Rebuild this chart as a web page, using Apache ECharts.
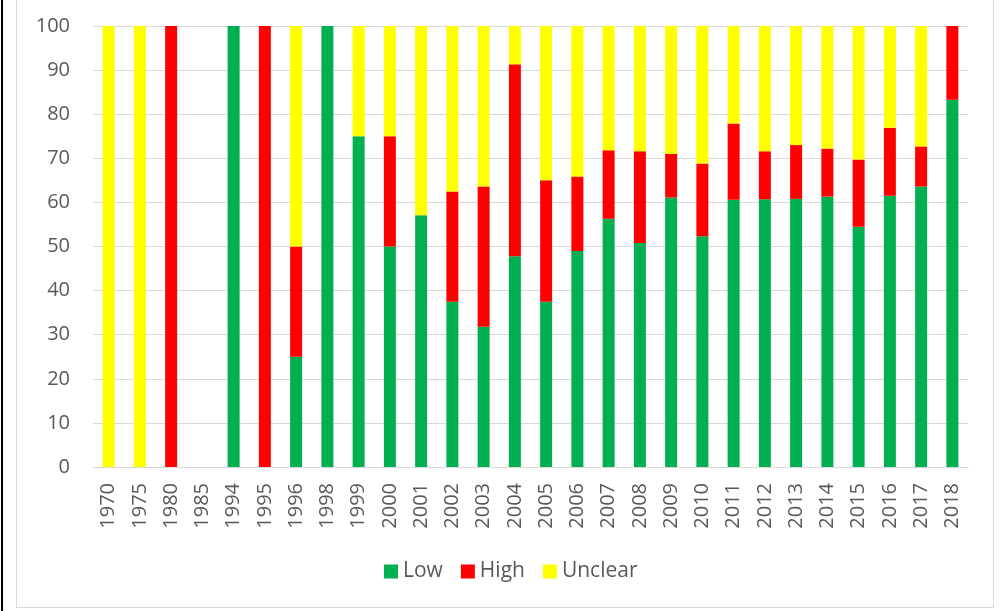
<!DOCTYPE html>
<html>
<head>
<meta charset="utf-8">
<script src="https://cdn.jsdelivr.net/npm/echarts@6/dist/echarts.min.js"></script>
<style>
  html, body { margin: 0; padding: 0; background: #fff; }
  #wrap { position: relative; width: 1003px; height: 611px; overflow: hidden; }
  #leftline { position: absolute; left: 1px; top: 0; width: 2px; height: 611px; background: #000; }
  #frame { position: absolute; left: 16px; top: -5px; width: 978px; height: 613px; border: 1px solid #d9d9d9; box-sizing: border-box; }
  #chart { position: absolute; left: 0; top: 0; width: 1003px; height: 611px; }
</style>
</head>
<body>
<div id="wrap">
  <div id="leftline"></div>
  <div id="frame"></div>
  <div id="chart"></div>
</div>
<script>
const categories = ['1970','1975','1980','1985','1994','1995','1996','1998','1999','2000','2001','2002','2003','2004','2005','2006','2007','2008','2009','2010','2011','2012','2013','2014','2015','2016','2017','2018'];
const lowValues = [null, null, null, null, 100, null, 25, 100, 75, 50, 57.1, 37.5, 31.8, 47.8, 37.5, 49.0, 56.3, 50.8, 61.1, 52.3, 60.6, 60.7, 60.8, 61.3, 54.5, 61.5, 63.6, 83.3];
const highValues = [null, null, 100, null, null, 100, 25, null, null, 25, null, 25, 31.8, 43.5, 27.5, 16.9, 15.5, 20.8, 9.9, 16.5, 17.3, 10.9, 12.2, 10.9, 15.2, 15.4, 9.1, 16.7];
const unclearValues = [100, 100, null, null, null, null, 50, null, 25, 25, 42.9, 37.5, 36.4, 8.7, 35, 34.1, 28.2, 28.4, 29.0, 31.2, 22.1, 28.4, 27.0, 27.8, 30.3, 23.1, 27.3, null];
const yTicks = [0, 10, 20, 30, 40, 50, 60, 70, 80, 90, 100];

const font = 'Open Sans';
const textColor = '#595959';
const chart = echarts.init(document.getElementById('chart'), null, { renderer: 'canvas' });
const barW = 12;
chart.setOption({
  animation: false,
  textStyle: { fontFamily: font },
  grid: { left: 93, right: 35, top: 26, bottom: 144, containLabel: false },
  legend: {
    left: 379, top: 556,
    icon: 'rect', itemWidth: 14, itemHeight: 14, itemGap: 18,
    textStyle: { fontFamily: font, fontSize: 21, color: textColor },
    data: ['Low', 'High', 'Unclear']
  },
  xAxis: {
    type: 'category',
    data: categories,
    axisTick: { show: false },
    axisLine: { lineStyle: { color: '#d9d9d9', width: 1 } },
    axisLabel: { rotate: 90, margin: 16, fontFamily: font, fontSize: 20, color: textColor, interval: 0 }
  },
  yAxis: {
    type: 'value',
    min: yTicks[0], max: yTicks[yTicks.length - 1], interval: yTicks[1] - yTicks[0],
    axisLine: { show: false },
    axisTick: { show: false },
    splitLine: { lineStyle: { color: '#d9d9d9', width: 1 } },
    axisLabel: { margin: 23, fontFamily: font, fontSize: 20, color: textColor }
  },
  series: [
    { name: 'Low', type: 'bar', stack: 'total', barWidth: barW, data: lowValues, itemStyle: { color: '#00B050' } },
    { name: 'High', type: 'bar', stack: 'total', barWidth: barW, data: highValues, itemStyle: { color: '#FF0000' } },
    { name: 'Unclear', type: 'bar', stack: 'total', barWidth: barW, data: unclearValues, itemStyle: { color: '#FFFF00' } }
  ]
});
</script>
</body>
</html>
